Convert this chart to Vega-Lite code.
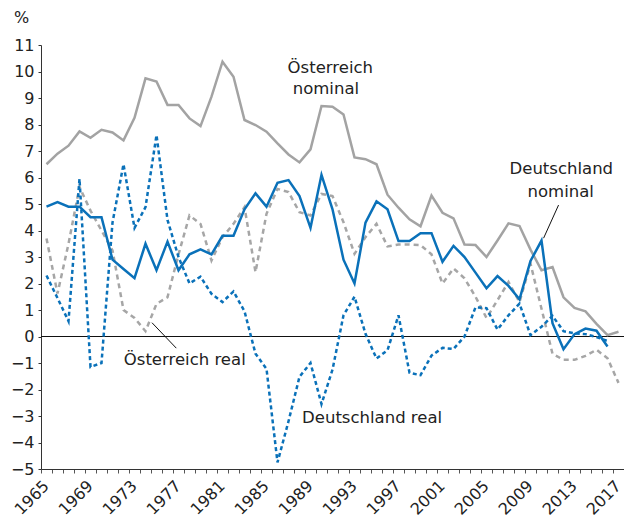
{
  "$schema": "https://vega.github.io/schema/vega-lite/v6.json",
  "width": 583,
  "height": 424,
  "autosize": {"type": "none"},
  "padding": {"left": 41, "top": 45, "right": 0, "bottom": 51},
  "background": "white",
  "config": {
    "view": {"stroke": null},
    "font": "DejaVu Sans",
    "text": {"font": "DejaVu Sans"}
  },
  "datasets": {
    "wide": [
      {"year": 1965, "AN": 6.5, "AR": 3.7, "DN": 4.9, "DR": 2.3},
      {"year": 1966, "AN": 6.9, "AR": 1.62, "DN": 5.07, "DR": 1.45},
      {"year": 1967, "AN": 7.2, "AR": 3.5, "DN": 4.9, "DR": 0.58},
      {"year": 1968, "AN": 7.74, "AR": 5.64, "DN": 4.9, "DR": 5.95},
      {"year": 1969, "AN": 7.5, "AR": 4.75, "DN": 4.5, "DR": -1.15},
      {"year": 1970, "AN": 7.8, "AR": 4.0, "DN": 4.5, "DR": -1.0},
      {"year": 1971, "AN": 7.7, "AR": 3.25, "DN": 2.9, "DR": 4.3},
      {"year": 1972, "AN": 7.4, "AR": 1.0, "DN": 2.55, "DR": 6.5},
      {"year": 1973, "AN": 8.25, "AR": 0.7, "DN": 2.2, "DR": 4.1},
      {"year": 1974, "AN": 9.74, "AR": 0.2, "DN": 3.5, "DR": 4.88},
      {"year": 1975, "AN": 9.62, "AR": 1.23, "DN": 2.5, "DR": 7.6},
      {"year": 1976, "AN": 8.74, "AR": 1.48, "DN": 3.58, "DR": 4.4},
      {"year": 1977, "AN": 8.74, "AR": 3.1, "DN": 2.5, "DR": 3.0},
      {"year": 1978, "AN": 8.23, "AR": 4.57, "DN": 3.1, "DR": 2.0},
      {"year": 1979, "AN": 7.94, "AR": 4.25, "DN": 3.29, "DR": 2.26},
      {"year": 1980, "AN": 9.05, "AR": 2.87, "DN": 3.1, "DR": 1.61},
      {"year": 1981, "AN": 10.37, "AR": 3.75, "DN": 3.8, "DR": 1.3},
      {"year": 1982, "AN": 9.8, "AR": 4.25, "DN": 3.8, "DR": 1.7},
      {"year": 1983, "AN": 8.17, "AR": 4.88, "DN": 4.8, "DR": 0.95},
      {"year": 1984, "AN": 7.98, "AR": 2.43, "DN": 5.4, "DR": -0.65},
      {"year": 1985, "AN": 7.73, "AR": 4.63, "DN": 4.9, "DR": -1.22},
      {"year": 1986, "AN": 7.29, "AR": 5.57, "DN": 5.8, "DR": -4.75},
      {"year": 1987, "AN": 6.87, "AR": 5.45, "DN": 5.9, "DR": -3.2},
      {"year": 1988, "AN": 6.57, "AR": 4.69, "DN": 5.3, "DR": -1.52},
      {"year": 1989, "AN": 7.06, "AR": 4.57, "DN": 4.1, "DR": -1.0},
      {"year": 1990, "AN": 8.7, "AR": 5.38, "DN": 6.1, "DR": -2.55},
      {"year": 1991, "AN": 8.67, "AR": 5.3, "DN": 4.8, "DR": -1.25},
      {"year": 1992, "AN": 8.38, "AR": 4.31, "DN": 2.9, "DR": 0.8},
      {"year": 1993, "AN": 6.76, "AR": 3.12, "DN": 2.0, "DR": 1.5},
      {"year": 1994, "AN": 6.69, "AR": 3.75, "DN": 4.3, "DR": 0.1},
      {"year": 1995, "AN": 6.5, "AR": 4.25, "DN": 5.1, "DR": -0.83},
      {"year": 1996, "AN": 5.35, "AR": 3.4, "DN": 4.8, "DR": -0.52},
      {"year": 1997, "AN": 4.86, "AR": 3.47, "DN": 3.6, "DR": 0.8},
      {"year": 1998, "AN": 4.42, "AR": 3.47, "DN": 3.6, "DR": -1.37},
      {"year": 1999, "AN": 4.16, "AR": 3.45, "DN": 3.9, "DR": -1.46},
      {"year": 2000, "AN": 5.32, "AR": 3.1, "DN": 3.9, "DR": -0.72},
      {"year": 2001, "AN": 4.67, "AR": 2.0, "DN": 2.82, "DR": -0.43},
      {"year": 2002, "AN": 4.46, "AR": 2.57, "DN": 3.42, "DR": -0.47},
      {"year": 2003, "AN": 3.47, "AR": 2.2, "DN": 3.0, "DR": 0.0},
      {"year": 2004, "AN": 3.45, "AR": 1.5, "DN": 2.41, "DR": 1.1},
      {"year": 2005, "AN": 3.0, "AR": 0.7, "DN": 1.82, "DR": 1.07},
      {"year": 2006, "AN": 3.62, "AR": 1.37, "DN": 2.28, "DR": 0.26},
      {"year": 2007, "AN": 4.27, "AR": 2.06, "DN": 1.91, "DR": 0.8},
      {"year": 2008, "AN": 4.17, "AR": 1.3, "DN": 1.4, "DR": 1.24},
      {"year": 2009, "AN": 3.28, "AR": 2.75, "DN": 2.85, "DR": 0.05},
      {"year": 2010, "AN": 2.5, "AR": 1.05, "DN": 3.62, "DR": 0.37},
      {"year": 2011, "AN": 2.62, "AR": -0.65, "DN": 0.5, "DR": 0.78},
      {"year": 2012, "AN": 1.48, "AR": -0.88, "DN": -0.48, "DR": 0.2},
      {"year": 2013, "AN": 1.08, "AR": -0.88, "DN": 0.09, "DR": 0.12},
      {"year": 2014, "AN": 0.95, "AR": -0.73, "DN": 0.3, "DR": 0.09},
      {"year": 2015, "AN": 0.48, "AR": -0.5, "DN": 0.22, "DR": -0.02},
      {"year": 2016, "AN": 0.05, "AR": -0.82, "DN": -0.38, "DR": -0.17},
      {"year": 2017, "AN": 0.18, "AR": -1.75, "DN": null, "DR": null}
    ],
    "notes": [
      {"year": 1990.8, "value": 10.13, "text": "Österreich"},
      {"year": 1990.4, "value": 9.34, "text": "nominal"},
      {"year": 2011.8, "value": 6.32, "text": "Deutschland"},
      {"year": 2011.75, "value": 5.45, "text": "nominal"},
      {"year": 1977.57, "value": -0.89, "text": "Österreich real"},
      {"year": 1994.6, "value": -3.08, "text": "Deutschland real"}
    ],
    "leaders": [
      {"year": 1974.59, "value": 0.52, "year2": 1976.8, "value2": -0.44},
      {"year": 2011.55, "value": 4.96, "year2": 2010.19, "value2": 3.71}
    ],
    "zero": [
      {"year": 1964.5, "value": 0, "year2": 2017.5, "value2": 0}
    ]
  },
  "encoding": {
    "x": {
      "field": "year",
      "type": "quantitative",
      "scale": {"domain": [1964.5, 2017.5], "nice": false, "zero": false},
      "axis": {
        "values": [1964.5, 1965.5, 1966.5, 1967.5, 1968.5, 1969.5, 1970.5, 1971.5, 1972.5, 1973.5, 1974.5, 1975.5, 1976.5, 1977.5, 1978.5, 1979.5, 1980.5, 1981.5, 1982.5, 1983.5, 1984.5, 1985.5, 1986.5, 1987.5, 1988.5, 1989.5, 1990.5, 1991.5, 1992.5, 1993.5, 1994.5, 1995.5, 1996.5, 1997.5, 1998.5, 1999.5, 2000.5, 2001.5, 2002.5, 2003.5, 2004.5, 2005.5, 2006.5, 2007.5, 2008.5, 2009.5, 2010.5, 2011.5, 2012.5, 2013.5, 2014.5, 2015.5, 2016.5, 2017.5],
        "labelExpr": "(datum.value + 0.5 - 1965) % 4 === 0 ? format(datum.value + 0.5, 'd') : ''",
        "labelOffset": 5,
        "labelAngle": -45,
        "labelAlign": "right",
        "labelBaseline": "middle",
        "labelOverlap": false,
        "labelFlush": false,
        "labelBound": false,
        "labelFontSize": 16,
        "labelColor": "#222",
        "labelPadding": 10,
        "tickSize": 4,
        "tickColor": "#555",
        "domainColor": "#333",
        "grid": false,
        "title": null
      }
    },
    "y": {
      "field": "value",
      "type": "quantitative",
      "scale": {"domain": [-5, 11], "nice": false, "zero": false},
      "axis": {
        "values": [-5, -4, -3, -2, -1, 0, 1, 2, 3, 4, 5, 6, 7, 8, 9, 10, 11],
        "labelFontSize": 16,
        "labelColor": "#222",
        "labelPadding": 4,
        "tickSize": 3,
        "tickColor": "#333",
        "domainColor": "#333",
        "grid": false,
        "title": "%",
        "titleAngle": 0,
        "titleX": -20,
        "titleY": -28,
        "titleAlign": "center",
        "titleBaseline": "middle",
        "titleFontSize": 16,
        "titleFontWeight": "normal",
        "titleColor": "#222"
      }
    }
  },
  "layer": [
    {
      "data": {"name": "zero"},
      "mark": {"type": "rule", "color": "#111", "strokeWidth": 1},
      "encoding": {"x2": {"field": "year2"}, "y2": {"field": "value2"}}
    },
    {
      "data": {"name": "wide"},
      "transform": [{"fold": ["AN"], "as": ["series", "value"]}],
      "mark": {"type": "line", "color": "#a3a3a3", "strokeWidth": 2.5}
    },
    {
      "data": {"name": "wide"},
      "transform": [{"fold": ["AR"], "as": ["series", "value"]}],
      "mark": {"type": "line", "color": "#a6a6a6", "strokeWidth": 2.5, "strokeDash": [5, 4]}
    },
    {
      "data": {"name": "wide"},
      "transform": [{"fold": ["DR"], "as": ["series", "value"]}],
      "mark": {"type": "line", "color": "#0a71b9", "strokeWidth": 2.5, "strokeDash": [4, 3]}
    },
    {
      "data": {"name": "wide"},
      "transform": [{"fold": ["DN"], "as": ["series", "value"]}],
      "mark": {"type": "line", "color": "#0a71b9", "strokeWidth": 2.5}
    },
    {
      "data": {"name": "leaders"},
      "mark": {"type": "rule", "color": "#111", "strokeWidth": 1},
      "encoding": {"x2": {"field": "year2"}, "y2": {"field": "value2"}}
    },
    {
      "data": {"name": "notes"},
      "mark": {"type": "text", "fontSize": 16.5, "color": "#222", "align": "center", "baseline": "middle"},
      "encoding": {"text": {"field": "text"}}
    }
  ]
}
